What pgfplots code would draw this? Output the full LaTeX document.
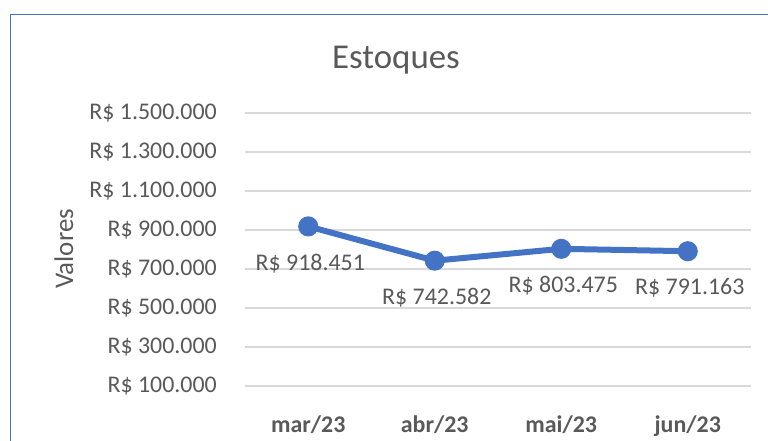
\documentclass[border=0pt]{standalone}
\usepackage{fontspec}
\setmainfont{Carlito}
\usepackage{pgfplots}
\pgfplotsset{compat=1.18}
\definecolor{txt}{HTML}{595959}
\definecolor{gridc}{HTML}{D9D9D9}
\definecolor{linec}{HTML}{4472C4}
\begin{document}
\begin{tikzpicture}[x=1bp,y=1bp]
\fill[white] (0,0) rectangle (768,441);
\useasboundingbox (0,0) rectangle (768,441);
\draw[linec, line width=1.3bp] (10.5,-5) -- (10.5,426.5) -- (775,426.5);
\node[anchor=base, text=txt, font=\fontsize{35}{40}\selectfont] at (396,372.7) {Estoques};
\node[rotate=90, anchor=base, text=txt, font=\fontsize{27}{32}\selectfont] at (73,192) {Valores};
\begin{axis}[
 at={(245bp,55bp)}, anchor=south west, scale only axis,
 width=506bp, height=273bp,
 xmin=-0.5, xmax=3.5, ymin=100000, ymax=1500000,
 scaled y ticks=false,
 axis line style={draw=none},
 major tick length=0pt,
 xtick={0,1,2,3}, xticklabels={mar/23,abr/23,mai/23,jun/23},
 ytick={100000,300000,500000,700000,900000,1100000,1300000,1500000},
 yticklabels={R\$ 100.000,R\$ 300.000,R\$ 500.000,R\$ 700.000,R\$ 900.000,R\$ 1.100.000,R\$ 1.300.000,R\$ 1.500.000},
 ymajorgrids, grid style={gridc, line width=1.8bp},
 tick label style={font=\fontsize{24}{28}\selectfont, text=txt},
 xticklabel style={font=\bfseries\fontsize{24}{28}\selectfont, anchor=base, inner sep=0pt, yshift=-47bp},
 yticklabel style={anchor=east, inner sep=0pt, xshift=-28bp},
 clip=false,
 nodes near coords, point meta=explicit symbolic,
 every node near coord/.style={anchor=center, yshift=-37bp, xshift=2bp, font=\fontsize{24}{28}\selectfont, text=txt},
]
\addplot[linec, line width=6bp, mark=*, mark size=7bp, mark options={solid, fill=linec}] table[meta=label] {
x y label
0 918451 R\$~918.451
1 742582 R\$~742.582
2 803475 R\$~803.475
3 791163 R\$~791.163
};
\end{axis}
\end{tikzpicture}
\end{document}
